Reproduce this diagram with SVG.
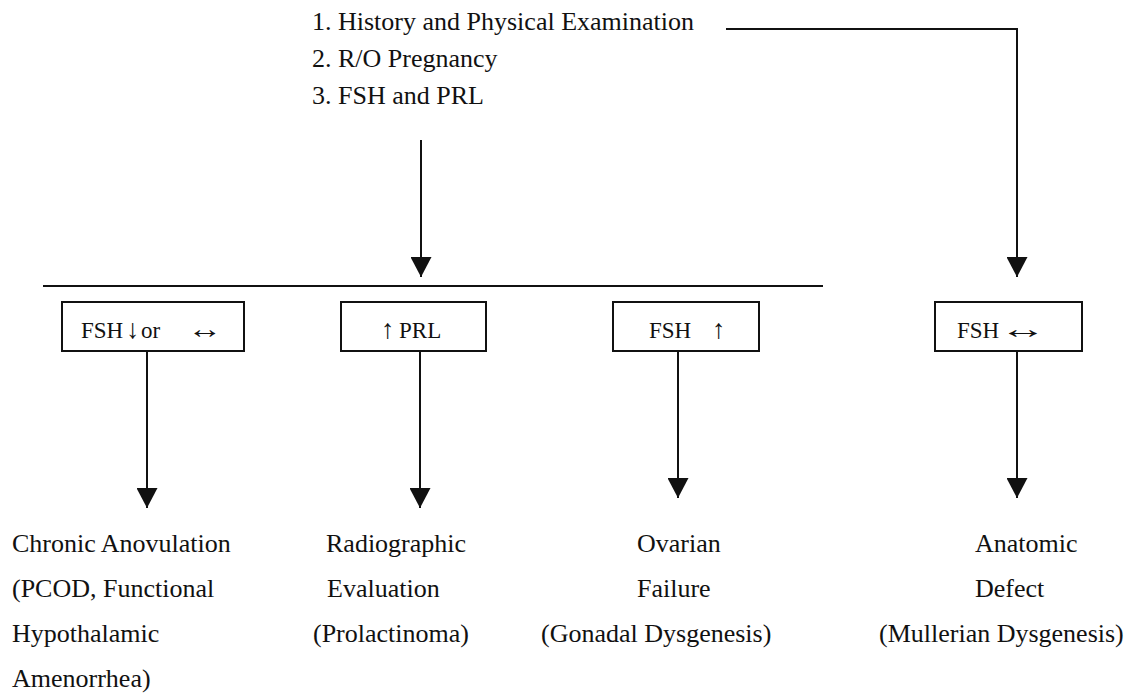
<svg xmlns="http://www.w3.org/2000/svg" width="1133" height="698" viewBox="0 0 1133 698">
<style>
text { font-family: "Liberation Serif", "Times New Roman", serif; fill: #111; }
.t { font-size: 26px; }
.b { font-size: 23px; }
.a { font-size: 27px; }
.box { fill: #fff; stroke: #111; stroke-width: 2; }
.ln { fill: none; stroke: #111; stroke-width: 2; }
.arr { fill: none; stroke: #111; stroke-width: 2; marker-end: url(#ah); }
</style>
<defs>
<marker id="ah" markerUnits="userSpaceOnUse" markerWidth="21" markerHeight="21" refX="20" refY="10.5" orient="auto">
<path d="M0,0 L20,10.5 L0,21 z" fill="#111"/>
</marker>
</defs>
<rect width="1133" height="698" fill="#fff"/>
<g id="connectors">
<path class="arr" d="M421,140 V277"/>
<path class="arr" d="M726,29 H1017 V277"/>
<path class="ln" d="M43,286 H823"/>
<path class="arr" d="M147,351 V508"/>
<path class="arr" d="M420,351 V508"/>
<path class="arr" d="M678,351 V498"/>
<path class="arr" d="M1017,351 V498"/>
</g>
<g id="start">
<text class="t" x="312" y="30">1. History and Physical Examination</text>
<text class="t" x="312" y="67">2. R/O Pregnancy</text>
<text class="t" x="312" y="104">3. FSH and PRL</text>
</g>
<g id="box-fsh-low">
<rect class="box" x="62" y="302" width="182" height="49"/>
<text class="b" y="338"><tspan x="81">FSH</tspan><tspan class="a" x="126">↓</tspan><tspan x="141">or</tspan></text>
<text class="a" x="187" y="338" textLength="35" lengthAdjust="spacingAndGlyphs">↔</text>
</g>
<g id="box-prl">
<rect class="box" x="341" y="302" width="145" height="49"/>
<text class="b" y="338"><tspan class="a" x="381">↑</tspan><tspan x="399">PRL</tspan></text>
</g>
<g id="box-fsh-high">
<rect class="box" x="613" y="302" width="146" height="49"/>
<text class="b" y="338"><tspan x="649">FSH</tspan><tspan class="a" x="712">↑</tspan></text>
</g>
<g id="box-fsh-normal">
<rect class="box" x="935" y="302" width="147" height="49"/>
<text class="b" y="338"><tspan x="957">FSH</tspan></text>
<text class="a" x="999" y="338" textLength="47" lengthAdjust="spacingAndGlyphs">↔</text>
</g>
<g id="out-chronic">
<text class="t" x="12" y="552">Chronic Anovulation</text>
<text class="t" x="12" y="597">(PCOD, Functional</text>
<text class="t" x="12" y="642">Hypothalamic</text>
<text class="t" x="12" y="687">Amenorrhea)</text>
</g>
<g id="out-radio">
<text class="t" x="326" y="552">Radiographic</text>
<text class="t" x="327" y="597">Evaluation</text>
<text class="t" x="313" y="642">(Prolactinoma)</text>
</g>
<g id="out-ovarian">
<text class="t" x="637" y="552">Ovarian</text>
<text class="t" x="637" y="597">Failure</text>
<text class="t" x="541" y="642">(Gonadal Dysgenesis)</text>
</g>
<g id="out-anatomic">
<text class="t" x="975" y="552">Anatomic</text>
<text class="t" x="975" y="597">Defect</text>
<text class="t" x="879" y="642">(Mullerian Dysgenesis)</text>
</g>
</svg>
